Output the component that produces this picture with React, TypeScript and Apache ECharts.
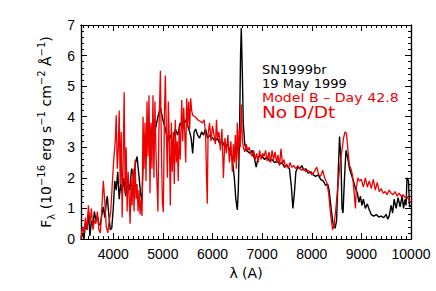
import React, { useEffect, useRef } from "react";
import * as echarts from "echarts";

// Observed spectrum (black)
const obsWave = [3350,3380,3410,3440,3470,3500,3530,3560,3590,3620,3650,3680,3710,3740,3770,3800,3830,3860,3880,3910,3940,3970,
  4000,4030,4060,4090,4120,4150,4180,4210,4250,4290,4330,4370,4410,4450,4480,4510,4550,4580,4610,4640,4680,4720,4760,4800,4850,4900,4950,
  5000,5050,5100,5150,5200,5250,5300,5350,5400,5450,5500,5540,5570,5600,5630,5660,5700,5740,5780,5820,5860,5900,5950,
  6000,6050,6100,6150,6200,6250,6300,6350,6400,6440,6470,6500,6520,6545,6565,6580,6600,6620,6650,6680,6720,6760,6800,6850,6880,6910,6950,
  7000,7050,7100,7150,7200,7250,7300,7350,7400,7450,7500,7550,7590,7620,7650,7680,7720,7760,7800,7840,7880,7930,7980,
  8030,8080,8130,8180,8230,8280,8320,8350,8390,8430,8470,8500,8530,8560,8590,8610,8630,8660,8690,8720,8760,8800,8840,8880,8920,8950,8980,
  9010,9040,9080,9120,9160,9200,9250,9300,9350,9400,9450,9500,9530,9560,9600,9630,9660,9700,9740,9780,9820,9850,9880,9900,9920,9950,9970,10000];
const obsFlux = [0.05,0.2,0.0,0.5,0.3,0.85,0.1,0.6,0.4,0.9,0.6,0.75,0.5,0.45,0.8,1.05,0.7,1.2,1.4,0.8,0.3,0.35,
  1.0,1.9,1.6,2.2,1.3,1.8,1.5,2.0,1.4,1.9,1.6,2.3,2.0,2.5,2.7,2.2,1.5,1.2,3.0,3.4,3.1,3.8,3.3,3.9,3.6,4.0,4.3,
  3.9,3.6,3.2,3.4,3.1,3.6,3.4,3.8,3.6,3.9,3.7,3.5,3.3,2.8,3.5,3.6,3.4,3.3,3.5,3.4,3.6,3.3,3.4,
  3.3,3.2,3.3,3.1,3.2,3.0,3.1,2.9,2.6,2.0,1.3,0.95,1.6,3.5,6.0,6.9,5.5,3.8,3.1,2.9,2.85,2.8,2.9,2.6,2.35,2.6,2.75,
  2.7,2.6,2.7,2.55,2.6,2.5,2.55,2.45,2.5,2.35,2.4,2.3,1.7,1.0,1.5,2.2,2.35,2.3,2.4,2.25,2.3,2.15,2.2,
  2.1,2.05,2.1,1.95,1.9,1.75,1.8,1.6,1.0,0.5,0.35,0.6,2.0,3.35,2.5,1.0,0.85,2.0,2.9,2.7,2.3,2.1,1.9,1.65,1.5,1.2,1.4,
  1.1,1.3,1.0,1.15,0.95,0.8,0.75,0.8,0.72,0.75,0.7,0.8,0.65,0.75,1.1,0.85,1.3,1.0,1.35,1.05,1.4,1.0,1.3,1.1,2.0,1.9,1.05,1.1];

// Model B spectrum (red)
const modelWave = [3350,3380,3410,3440,3470,3500,3530,3560,3590,3620,3650,3680,3710,3740,3770,3800,3830,3860,3890,3920,3950,3980,
  4010,4040,4060,4080,4100,4120,4140,4160,4180,4200,4220,4240,4260,4280,4300,4320,4340,4360,4380,4400,4420,4440,4460,4480,4500,4520,4540,4560,4580,
  4600,4620,4640,4660,4680,4700,4720,4740,4760,4780,4800,4820,4840,4860,4880,4900,4920,4950,4970,4990,
  5010,5030,5050,5070,5090,5110,5130,5150,5170,5190,5210,5230,5250,5270,5290,5310,5330,5350,5380,5400,5420,5440,5460,5480,5500,5520,5540,5560,5580,
  5600,5650,5700,5750,5800,5830,5860,5880,5895,5910,5940,5970,
  6000,6030,6060,6080,6100,6130,6160,6190,6220,6250,6280,6310,6340,6370,6400,6420,6440,6460,6480,6500,6520,6540,6560,6580,
  6600,6620,6650,6680,6710,6740,6770,6800,6830,6860,6890,6920,6950,6980,
  7010,7040,7070,7100,7140,7170,7200,7230,7260,7290,7320,7350,7380,7410,7440,7470,7500,7530,7560,7600,7640,7680,7720,7760,7800,7840,7880,7920,7960,
  8000,8050,8100,8140,8180,8220,8260,8300,8340,8380,8420,8450,8480,8520,8560,8600,8640,8670,8700,8730,8760,8790,8820,8850,8880,8900,8930,8960,
  9000,9040,9080,9120,9160,9200,9240,9280,9320,9360,9400,9440,9480,9520,9560,9600,9640,9680,9720,9760,9800,9840,9880,9920,9960,10000];
const modelFlux = [0.0,0.4,0.2,0.7,0.3,1.1,0.5,1.0,0.3,0.6,0.5,0.9,0.3,0.2,1.0,1.9,1.2,0.4,0.2,0.6,0.9,1.8,
  2.6,3.2,4.05,2.3,2.9,4.2,1.8,3.5,0.7,2.6,4.8,1.5,3.0,0.9,2.2,1.4,0.5,2.0,1.1,2.3,0.9,2.6,1.3,1.8,0.9,1.6,0.8,1.3,0.75,
  4.0,2.3,3.8,1.9,4.5,2.7,4.7,1.5,3.8,2.3,4.7,2.0,4.5,2.9,1.9,0.9,3.5,5.5,3.0,1.2,
  0.88,4.0,5.35,3.5,2.0,4.5,3.2,1.1,3.8,2.2,3.5,1.8,3.9,2.5,3.2,1.9,3.7,2.6,4.55,3.2,4.3,3.5,2.5,4.6,3.7,4.5,3.6,4.6,4.2,
  4.05,4.0,3.9,3.85,3.8,3.9,3.5,2.0,1.15,3.4,3.8,3.2,
  3.7,3.4,3.1,3.9,3.3,3.5,2.9,3.6,2.0,3.3,2.8,3.4,2.5,3.2,2.2,3.1,2.5,3.4,2.3,3.8,2.6,3.6,3.0,4.4,
  3.3,3.0,2.85,3.1,2.9,3.0,2.8,2.7,2.9,2.6,2.8,2.5,2.9,2.6,
  2.8,2.7,2.9,2.55,2.85,2.5,2.9,2.6,2.85,2.5,2.75,2.4,2.95,2.45,2.6,2.35,2.45,2.3,2.5,2.35,2.4,2.3,2.4,2.3,2.25,2.3,2.2,2.25,2.2,
  2.1,2.2,2.35,2.1,2.05,2.25,2.0,1.85,1.5,0.8,0.3,0.45,0.9,1.6,2.3,2.8,3.3,3.5,3.45,2.9,2.4,2.3,2.1,1.6,1.0,1.7,2.0,1.9,
  1.95,1.7,2.0,1.7,1.9,1.65,1.95,1.6,1.85,1.55,1.65,1.5,1.55,1.45,1.6,1.5,1.45,1.55,1.4,1.5,1.4,1.45,1.35,1.4,1.25,1.2];

// Axis ticks
const xMajor = [4000, 5000, 6000, 7000, 8000, 9000, 10000];
const xMinor: number[] = [];
for (let v = 3400; v <= 10000; v += 100) xMinor.push(v);
const yMajor = [0, 1, 2, 3, 4, 5, 6, 7];
const yMinor: number[] = [];
for (let i = 0; i <= 35; i++) yMinor.push(Math.round(i * 2) / 10);

const X_MIN = 3350, X_MAX = 10000, Y_MIN = 0, Y_MAX = 7;
const FONT = "DejaVu Sans";
const LABEL_FONT = "Liberation Sans";
const RED = "#ee0000";

export default function App() {
  const ref = useRef<HTMLDivElement>(null);
  useEffect(() => {
    document.body.style.margin = "0";
    const chart = echarts.init(ref.current!, null, { renderer: "svg" });

    const mkX = (pos: string, values: number[], len: number, labels: boolean, extra: any = {}) => ({
      type: "value", min: X_MIN, max: X_MAX, position: pos,
      axisLine: { show: true, onZero: false, lineStyle: { color: "#000", width: 1.2 } },
      axisTick: { show: true, inside: true, length: len, customValues: values, lineStyle: { color: "#000", width: 1 } },
      axisLabel: labels
        ? { show: true, customValues: values, color: "#000", fontSize: 14, fontFamily: LABEL_FONT, margin: 8, formatter: (v: number) => String(v) }
        : { show: false },
      splitLine: { show: false },
      ...extra,
    });
    const mkY = (pos: string, values: number[], len: number, labels: boolean, extra: any = {}) => ({
      type: "value", min: Y_MIN, max: Y_MAX, position: pos,
      axisLine: { show: true, onZero: false, lineStyle: { color: "#000", width: 1.2 } },
      axisTick: { show: true, inside: true, length: len, customValues: values, lineStyle: { color: "#000", width: 1 } },
      axisLabel: labels
        ? { show: true, customValues: values, color: "#000", fontSize: 14, fontFamily: LABEL_FONT, margin: 6, formatter: (v: number) => String(v) }
        : { show: false },
      splitLine: { show: false },
      ...extra,
    });

    chart.setOption({
      animation: false,
      backgroundColor: "#fff",
      grid: { left: 81, right: 25, top: 25, bottom: 52, containLabel: false },
      xAxis: [
        mkX("bottom", xMajor, 6, true, {
          name: "λ (A)", nameLocation: "middle", nameGap: 24,
          nameTextStyle: { color: "#000", fontSize: 14, fontFamily: FONT },
        }),
        mkX("bottom", xMinor, 3, false),
        mkX("top", xMajor, 6, false),
        mkX("top", xMinor, 3, false),
      ],
      yAxis: [
        mkY("left", yMajor, 6, true, {
          name: "{n|F}{sub|λ}{n| (10}{sup|−16}{n| erg s}{sup|−1}{n| cm}{sup|−2}{n| Å}{sup|−1}{n|)}",
          nameLocation: "middle", nameRotate: 90, nameGap: 22,
          nameTextStyle: {
            color: "#000", fontSize: 14, fontFamily: FONT,
            rich: {
              n: { fontSize: 14, fontFamily: FONT, color: "#000", lineHeight: 20, verticalAlign: "middle" },
              sup: { fontSize: 10, fontFamily: FONT, color: "#000", lineHeight: 12, verticalAlign: "top" },
              sub: { fontSize: 10, fontFamily: FONT, color: "#000", lineHeight: 12, verticalAlign: "bottom" },
            },
          },
        }),
        mkY("left", yMinor, 3, false),
        mkY("right", yMajor, 6, false),
        mkY("right", yMinor, 3, false),
      ],
      series: [
        {
          type: "line", xAxisIndex: 0, yAxisIndex: 0, showSymbol: false, symbol: "none",
          data: obsWave.map((w, i) => [w, obsFlux[i]]),
          lineStyle: { color: "#000", width: 1.4 }, z: 2,
        },
        {
          type: "line", xAxisIndex: 0, yAxisIndex: 0, showSymbol: false, symbol: "none",
          data: modelWave.map((w, i) => [w, modelFlux[i]]),
          lineStyle: { color: RED, width: 1.3 }, z: 3,
        },
      ],
      graphic: [
        { type: "text", x: 262, y: 69, style: { text: "SN1999br", fill: "#000", font: `13px "${FONT}"`, textVerticalAlign: "middle" } },
        { type: "text", x: 262, y: 83, style: { text: "19 May 1999", fill: "#000", font: `13px "${FONT}"`, textVerticalAlign: "middle" } },
        { type: "text", x: 262, y: 98, scaleX: 1.18, style: { text: "Model B – Day 42.8", fill: RED, font: `12px "${FONT}"`, textVerticalAlign: "middle" } },
        { type: "text", x: 262, y: 112, scaleX: 1.16, style: { text: "No D/Dt", fill: RED, font: `16px "${FONT}"`, textVerticalAlign: "middle" } },
      ],
    });
    return () => chart.dispose();
  }, []);
  return <div ref={ref} style={{ position: "fixed", left: 0, top: 0, width: 436, height: 291, background: "#fff" }} />;
}
